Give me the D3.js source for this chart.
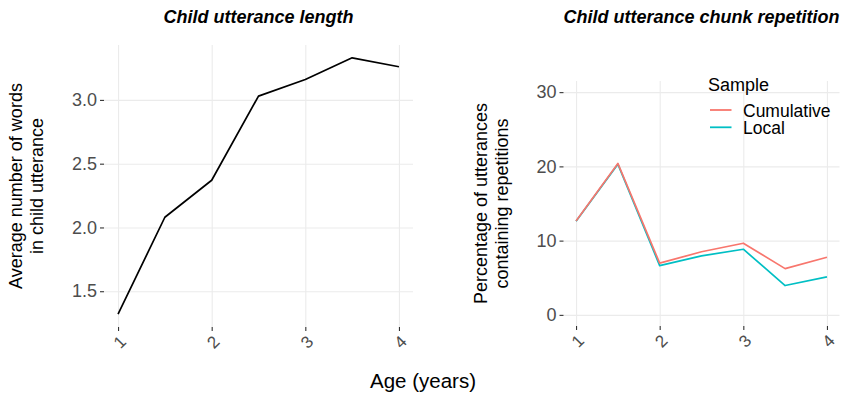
<!DOCTYPE html>
<html>
<head>
<meta charset="utf-8">
<script src="https://cdn.jsdelivr.net/npm/d3@7"></script>
<style>
  body { margin: 0; background: #fff; }
  svg text { font-family: "Liberation Sans", Arial, sans-serif; }
</style>
</head>
<body>
<div id="chart"></div>
<script>
// ages in years (x values shared by both panels)
const ages = [1, 1.5, 2, 2.5, 3, 3.5, 4];
// left panel: average number of words per child utterance
const uttLength = [1.32, 2.08, 2.37, 3.03, 3.16, 3.33, 3.26];
// right panel: % of utterances containing repetitions
const cumulative = [12.65, 20.4, 6.96, 8.5, 9.65, 6.23, 7.76];
const local      = [12.6, 20.3, 6.64, 7.94, 8.84, 3.95, 5.11];
const seriesNames = ["Cumulative", "Local"];
const xTicks = [1, 2, 3, 4];
const lenTicks = [1.5, 2.0, 2.5, 3.0];
const repTicks = [0, 10, 20, 30];

const fullW = 844, fullH = 394;
const colors = { Cumulative: "#F8766D", Local: "#00BFC4" };

const svg = d3.select("#chart").append("svg")
  .attr("width", fullW)
  .attr("height", fullH);

// ggplot-style 5% expansion
function expand(lo, hi) {
  const pad = (hi - lo) * 0.05;
  return [lo - pad, hi + pad];
}

function drawPanel(p) {
  const x = d3.scaleLinear().domain(expand(1, 4)).range([p.left, p.right]);
  const y = d3.scaleLinear().domain(p.yDomain).range([p.bottom, p.top]);
  const w = p.right - p.left, h = p.bottom - p.top;

  // grid
  svg.append("g")
    .attr("transform", `translate(${p.left},0)`)
    .call(d3.axisLeft(y).tickValues(p.yTicks).tickSize(-w).tickFormat(""))
    .call(g => g.select(".domain").remove())
    .call(g => g.selectAll("line").attr("stroke", "#EBEBEB").attr("stroke-width", 1.1));
  svg.append("g")
    .attr("transform", `translate(0,${p.bottom})`)
    .call(d3.axisBottom(x).tickValues(xTicks).tickSize(-h).tickFormat(""))
    .call(g => g.select(".domain").remove())
    .call(g => g.selectAll("line").attr("stroke", "#EBEBEB").attr("stroke-width", 1.1));

  // y axis
  svg.append("g")
    .attr("transform", `translate(${p.left},0)`)
    .call(d3.axisLeft(y).tickValues(p.yTicks).tickSize(4).tickSizeOuter(0).tickPadding(3)
      .tickFormat(p.yFormat))
    .call(g => g.select(".domain").remove())
    .call(g => g.selectAll("line").attr("stroke", "#333").attr("stroke-width", 1.1))
    .call(g => g.selectAll("text").attr("fill", "#4D4D4D").style("font-size", "18px"));

  // x axis, labels rotated
  svg.append("g")
    .attr("transform", `translate(0,${p.bottom})`)
    .call(d3.axisBottom(x).tickValues(xTicks).tickSize(4).tickSizeOuter(0).tickFormat(d3.format("d")))
    .call(g => g.select(".domain").remove())
    .call(g => g.selectAll("line").attr("stroke", "#333").attr("stroke-width", 1.1))
    .call(g => g.selectAll("text")
      .attr("fill", "#4D4D4D")
      .style("font-size", "17px")
      .attr("y", 0).attr("dy", "0.35em")
      .attr("text-anchor", "middle")
      .attr("transform", "translate(1,15) rotate(-45)"));

  // title
  svg.append("text")
    .attr("x", (p.left + p.right) / 2)
    .attr("y", 23)
    .attr("text-anchor", "middle")
    .style("font-size", "18px")
    .style("font-weight", "bold")
    .style("font-style", "italic")
    .text(p.title);

  // y title (two lines)
  p.yTitle.forEach((t, i) => {
    svg.append("text")
      .attr("transform", `translate(${p.yTitleX[i]},${(p.top + p.bottom) / 2}) rotate(-90)`)
      .attr("text-anchor", "middle")
      .style("font-size", "18px")
      .attr("fill", "#000")
      .text(t);
  });

  // lines
  const line = d3.line().x(d => x(d[0])).y(d => y(d[1]));
  p.series.forEach(s => {
    svg.append("path")
      .datum(ages.map((a, i) => [a, s.values[i]]))
      .attr("fill", "none")
      .attr("stroke", s.color)
      .attr("stroke-width", 1.7)
      .attr("stroke-linejoin", "round")
      .attr("d", line);
  });
  return { x, y };
}

drawPanel({
  left: 104, right: 413, top: 45, bottom: 327,
  yDomain: expand(d3.min(uttLength), d3.max(uttLength)),
  yTicks: lenTicks,
  yFormat: d3.format(".1f"),
  title: "Child utterance length",
  yTitle: ["Average number of words", "in child utterance"],
  yTitleX: [21.5, 43],
  series: [{ values: uttLength, color: "#000" }]
});

drawPanel({
  left: 563.5, right: 839.5, top: 81, bottom: 326,
  yDomain: expand(0, 30),
  yTicks: repTicks,
  yFormat: d3.format("d"),
  title: "Child utterance chunk repetition",
  yTitle: ["Percentage of utterances", "containing repetitions"],
  yTitleX: [487, 508],
  series: [
    { values: local, color: colors.Local },
    { values: cumulative, color: colors.Cumulative }
  ]
});

// legend
const legend = svg.append("g").attr("transform", "translate(708,0)");
legend.append("text")
  .attr("x", 0).attr("y", 91)
  .style("font-size", "18px")
  .text("Sample");
seriesNames.forEach((name, i) => {
  const cy = 110 + i * 17.3;
  legend.append("line")
    .attr("x1", 2).attr("x2", 23.5)
    .attr("y1", cy).attr("y2", cy)
    .attr("stroke", colors[name])
    .attr("stroke-width", 1.8);
  legend.append("text")
    .attr("x", 35).attr("y", cy + 6.5)
    .style("font-size", "17.5px")
    .text(name);
});

// shared x title
svg.append("text")
  .attr("x", 423)
  .attr("y", 388)
  .attr("text-anchor", "middle")
  .style("font-size", "20.5px")
  .text("Age (years)");
</script>
</body>
</html>
